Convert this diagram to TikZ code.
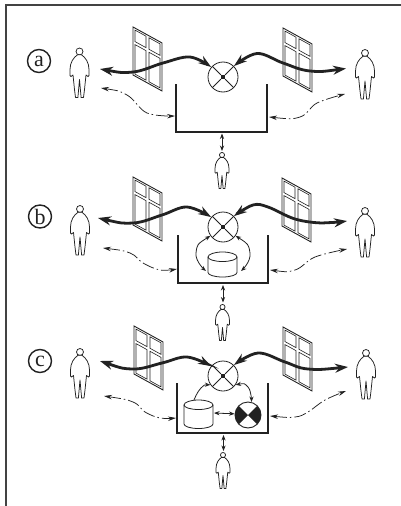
\documentclass[tikz,border=0pt]{standalone}
\usepackage{fontspec}
\setmainfont{Liberation Serif}
\usetikzlibrary{arrows.meta}
\definecolor{ink}{HTML}{222222}
\tikzset{
  x=1pt,y=-1pt,
  heavy/.style={draw=ink,line width=2.8pt,{Stealth[length=13pt,width=9pt]}-{Stealth[length=13pt,width=8.5pt]}},
  thin arrow/.style={draw=ink,line width=.8pt,{Stealth[length=5.5pt,width=4.2pt]}-{Stealth[length=5.5pt,width=4.2pt]}},
  dashy/.style={draw=ink,line width=.75pt,dash pattern=on 12pt off 3pt on 1.5pt off 3pt,{Stealth[length=8pt,width=4.5pt]}-{Stealth[length=8pt,width=4.5pt]}},
  tubline/.style={draw=ink,line width=2.1pt,line cap=butt},
  hubnode/.style={circle,draw=ink,line width=.8pt,minimum size=30pt,inner sep=0pt,fill=white},
  sinknode/.style={circle,draw=ink,line width=.9pt,minimum size=26pt,inner sep=0pt,fill=white},
  letter/.style={circle,draw=ink,line width=1.4pt,minimum size=23pt,inner sep=0pt,font=\fontsize{22}{22}\selectfont,text=ink},
  drum/.style={draw=ink,line width=.8pt,fill=white},
  person/.pic={
    \draw[ink,line width=.75pt,fill=white] (0,0) circle (3.5);
    \draw[ink,line width=.75pt,fill=white,line join=round]
      (-2,3.3) .. controls (-6,6) and (-9.5,11) .. (-9.5,18)
      -- (-9.5,24) -- (-8.5,25) -- (-6.5,23.5)
      -- (-5,38) -- (-4,46) -- (-1.6,46) -- (0,28) -- (1.6,46) -- (4,46) -- (5,38) -- (6.5,23.5)
      -- (8.5,25) -- (9.5,24) -- (9.5,18)
      .. controls (9.5,11) and (6,6) .. (2,3.3) -- cycle;
  },
  casement/.pic={
    \begin{scope}[yslant=-.55]
    \draw[ink,line width=.9pt,fill=white] (0,0) rectangle (29,48);
    \draw[ink,line width=.6pt] (2,2) rectangle (13,13.5) (16,2) rectangle (27,13.5)
      (2,16.5) rectangle (13,46) (16,16.5) rectangle (27,46);
    \end{scope}
  },
  hubmark/.pic={
    \foreach \a in {45,135,225,315}{\draw[ink,line width=.8pt] (\a:3pt) -- (\a:15pt);}
    \fill[ink] (-2.3,-2.3) rectangle (2.3,2.3);
  },
}
\newcommand{\cylinder}[4]{% x left, x right, top-centre y, side-bottom y
  \draw[drum] (#1,#3) arc[start angle=180,end angle=0,x radius=14.5pt,y radius=5pt]
     -- (#2,#4) arc[start angle=0,end angle=-180,x radius=14.5pt,y radius=4.5pt] -- cycle;
  \draw[drum,fill=none] (#1,#3) arc[start angle=180,end angle=360,x radius=14.5pt,y radius=4.5pt];
}
\begin{document}
\begin{tikzpicture}
\useasboundingbox (0,0) rectangle (401,506);
\fill[white] (0,0) rectangle (401,506);
\draw[ink!85,line width=1.1pt] (401,5) -- (6,5) -- (6,506);

% ---------- panel a
\node[letter] (la) at (39,61) {a};
\pic at (79.5,51.5) {person};
\pic at (365,53) {person};
\pic[scale=.73] at (222,155) {person};
\pic at (133,27) {casement};
\pic at (283,28) {casement};
\node[hubnode] (hubA) at (223,77) {};
\pic at (223,77) {hubmark};
\coordinate (pla) at (100,69);
\coordinate (pra) at (346,68.5);
\coordinate (dla) at (101,88);
\coordinate (dra) at (345,94);
\coordinate (tla) at (176,84);
\coordinate (tra) at (267,84);
\coordinate (bla) at (176,132);
\coordinate (bra) at (267,132);
\coordinate (ela) at (175,116);
\coordinate (era) at (269,117);
\coordinate (ba) at (222,133.5);
\coordinate (ma) at (222,151);
\draw[tubline] (tla) -- (bla) -- (bra) -- (tra);
\draw[heavy] plot[smooth,tension=.6] coordinates {(pla) (133,72) (163,63) (190,57) (hubA.140)};
\draw[heavy] plot[smooth,tension=.6] coordinates {(pra) (310,71) (283,63) (257,53.5) (hubA.45)};
\draw[dashy] plot[smooth,tension=.6] coordinates {(dla) (127,95) (147,113) (ela)};
\draw[dashy] plot[smooth,tension=.6] coordinates {(era) (300,117) (317,103) (dra)};
\draw[thin arrow] (ba) -- (ma);

% ---------- panel b
\node[letter] (lb) at (40,216.5) {b};
\pic at (80,209) {person};
\pic at (365,211) {person};
\pic[scale=.73] at (222.5,307) {person};
\pic at (133,177) {casement};
\pic at (282,178) {casement};
\node[hubnode] (hubB) at (223,227) {};
\pic at (223,227) {hubmark};
\coordinate (plb) at (98,218);
\coordinate (prb) at (347,221);
\coordinate (dlb) at (103,248);
\coordinate (drb) at (347,249);
\coordinate (tlb) at (178,235);
\coordinate (trb) at (268,235);
\coordinate (blb) at (178,283);
\coordinate (brb) at (268,283);
\coordinate (elb) at (177,269);
\coordinate (erb) at (270,270);
\coordinate (bb) at (223,285);
\coordinate (mb) at (223,302.5);
\draw[tubline] (tlb) -- (blb) -- (brb) -- (trb);
\draw[heavy] plot[smooth,tension=.6] coordinates {(plb) (133,223) (162,215) (187,207) (hubB.140)};
\draw[heavy] plot[smooth,tension=.6] coordinates {(prb) (322,223) (295,219) (268,207) (253,205) (hubB.45)};
\draw[dashy] plot[smooth,tension=.6] coordinates {(dlb) (130,253) (143,263) (160,270) (elb)};
\draw[dashy] plot[smooth,tension=.6] coordinates {(erb) (295,270) (315,257) (drb)};
\draw[thin arrow] (bb) -- (mb);
\cylinder{208}{237}{257}{272.5}
\coordinate (cbl) at (206,271);
\coordinate (cbr) at (241,271);
\draw[thin arrow] plot[smooth,tension=.9] coordinates {(hubB.215) (196,253) (cbl)};
\draw[thin arrow] plot[smooth,tension=.9] coordinates {(hubB.325) (250,253) (cbr)};

% ---------- panel c
\node[letter] (lc) at (40,361) {c};
\pic at (80,352) {person};
\pic at (366,353) {person};
\pic[scale=.73] at (223,455) {person};
\pic at (134,326) {casement};
\pic at (283,327) {casement};
\node[hubnode] (hubC) at (223,376) {};
\pic at (223,376) {hubmark};
\coordinate (plc) at (100,361);
\coordinate (prc) at (348,367);
\coordinate (dlc) at (104,396);
\coordinate (drc) at (346,391);
\coordinate (tlc) at (177,383);
\coordinate (trc) at (268,383);
\coordinate (blc) at (177,433);
\coordinate (brc) at (268,433);
\coordinate (elc) at (176,418);
\coordinate (erc) at (270,416);
\coordinate (bc) at (223.5,435);
\coordinate (mc) at (223.5,451);
\draw[tubline] (tlc) -- (blc) -- (brc) -- (trc);
\draw[heavy] plot[smooth,tension=.6] coordinates {(plc) (133,369) (162,363) (187,357) (hubC.140)};
\draw[heavy] plot[smooth,tension=.6] coordinates {(prc) (308,369) (285,362) (258,353) (hubC.45)};
\draw[dashy] plot[smooth,tension=.6] coordinates {(dlc) (133,402) (145,412) (160,418) (elc)};
\draw[dashy] plot[smooth,tension=.6] coordinates {(erc) (295,417) (308,412) (325,400) (drc)};
\draw[thin arrow] (bc) -- (mc);
\cylinder{184}{213}{405}{424}
\node[sinknode] (sink) at (248,415) {};
\fill[ink,shift={(248,415)}] (0,0) -- (135:13pt) arc[start angle=135,end angle=225,radius=13pt] -- cycle;
\fill[ink,shift={(248,415)}] (0,0) -- (45:13pt) arc[start angle=45,end angle=-45,radius=13pt] -- cycle;
\coordinate (cct) at (194,400);
\coordinate (cce) at (214,413);
\draw[thin arrow,{Stealth[length=5.5pt,width=4.2pt]}-] plot[smooth,tension=.8] coordinates {(hubC.215) (201,388) (cct)};
\draw[thin arrow] plot[smooth,tension=.8] coordinates {(hubC.-35) (248,387) (sink.75)};
\draw[thin arrow] (cce) -- (sink.175);
\end{tikzpicture}
\end{document}
